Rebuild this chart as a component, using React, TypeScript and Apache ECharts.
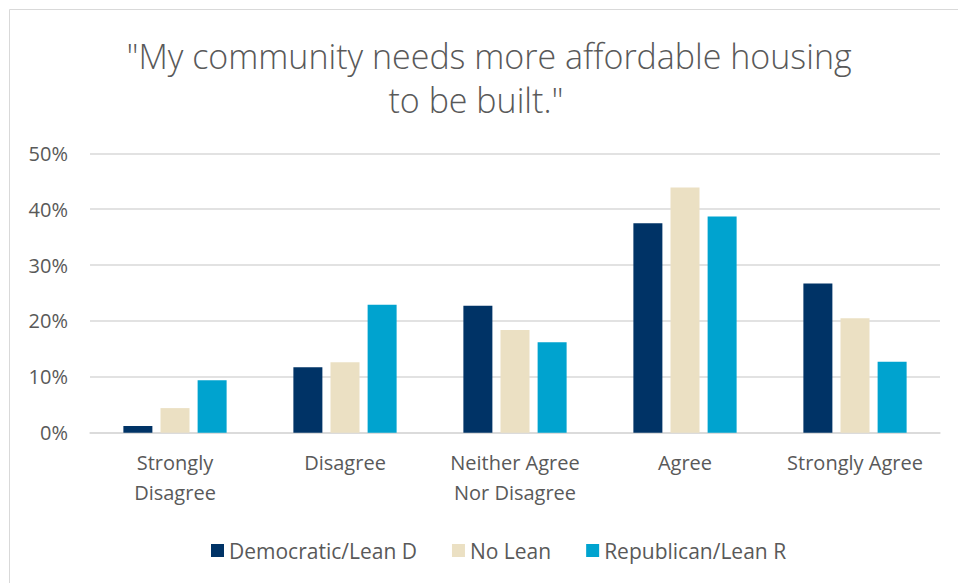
import React, { useEffect, useRef } from "react";
import * as echarts from "echarts";

const categories = ["Strongly\nDisagree", "Disagree", "Neither Agree\nNor Disagree", "Agree", "Strongly Agree"];
const democratic = [1.2, 11.7, 22.7, 37.5, 26.7];
const noLean = [4.4, 12.6, 18.4, 43.9, 20.5];
const republican = [9.4, 22.9, 16.2, 38.7, 12.7];
const seriesNames = ["Democratic/Lean D", "No Lean", "Republican/Lean R"];
const titleLines = ['"My community needs more affordable housing', 'to be built."'];

const FONT = "'Open Sans', sans-serif";
const TEXT = "#595959";
const colors = ["#003366", "#EBE0C3", "#00A3CF"];

export default function App() {
  const ref = useRef<HTMLDivElement>(null);
  useEffect(() => {
    if (!ref.current) return;
    const chart = echarts.init(ref.current, null, { renderer: "svg" });
    const mk = (name: string, data: number[], i: number) => ({
      name,
      type: "bar",
      data,
      barWidth: 29,
      barGap: "28%",
      itemStyle: { color: colors[i] },
    });
    chart.setOption({
      animation: false,
      backgroundColor: "#ffffff",
      textStyle: { fontFamily: FONT },
      graphic: [
        {
          type: "rect",
          shape: { x: 9.5, y: 9.5, width: 980, height: 600 },
          style: { fill: "none", stroke: "#D9D9D9", lineWidth: 1 },
          silent: true,
        },
        {
          type: "text",
          x: 489,
          y: 56,
          style: {
            text: titleLines[0],
            fontFamily: FONT,
            fontSize: 34,
            fontWeight: 300,
            fill: TEXT,
            align: "center",
            verticalAlign: "middle",
          },
        },
        {
          type: "text",
          x: 476,
          y: 100,
          style: {
            text: titleLines[1],
            fontFamily: FONT,
            fontSize: 34,
            fontWeight: 300,
            fill: TEXT,
            align: "center",
            verticalAlign: "middle",
          },
        },
      ],
      legend: {
        data: seriesNames,
        left: 206,
        top: 535,
        itemWidth: 13,
        itemHeight: 13,
        itemGap: 35,
        icon: "rect",
        textStyle: { color: TEXT, fontSize: 21, fontFamily: FONT },
      },
      grid: { left: 90, right: 18, top: 153.3, bottom: 150.3, containLabel: false },
      xAxis: {
        type: "category",
        data: categories,
        axisLine: { show: true, lineStyle: { color: "#D9D9D9", width: 1.5 } },
        axisTick: { show: false },
        axisLabel: {
          color: TEXT,
          fontSize: 20,
          fontFamily: FONT,
          lineHeight: 30,
          margin: 15,
          interval: 0,
        },
      },
      yAxis: {
        type: "value",
        min: 0,
        max: 50,
        interval: 10,
        axisLine: { show: false },
        axisTick: { show: false },
        splitLine: { lineStyle: { color: "#D9D9D9", width: 1.5 } },
        axisLabel: {
          color: TEXT,
          fontSize: 20,
          fontFamily: FONT,
          margin: 22,
          formatter: "{value}%",
        },
      },
      series: [mk(seriesNames[0], democratic, 0), mk(seriesNames[1], noLean, 1), mk(seriesNames[2], republican, 2)],
    });
    return () => chart.dispose();
  }, []);
  return (
    <div
      ref={ref}
      style={{ position: "absolute", left: 0, top: 0, width: 958, height: 583 }}
    />
  );
}
